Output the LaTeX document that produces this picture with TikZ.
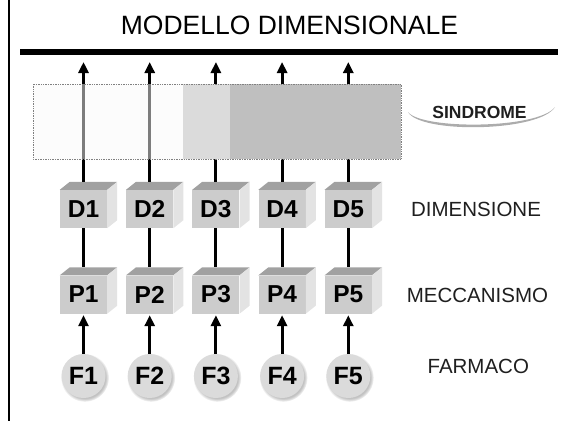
\documentclass[tikz,border=0pt]{standalone}
\usepackage{fontspec}
\setmainfont{Liberation Sans}
\usetikzlibrary{arrows.meta,shadows,calc}
\definecolor{frontc}{gray}{0.80}
\definecolor{topc}{gray}{0.63}
\definecolor{sidec}{gray}{0.89}
\definecolor{circc}{gray}{0.86}
\definecolor{secA}{gray}{0.98}
\definecolor{secB}{gray}{0.86}
\definecolor{secC}{gray}{0.75}
\definecolor{txt}{gray}{0.12}
\begin{document}
\begin{tikzpicture}[x=1pt,y=-1pt,
  cube/.style={rectangle, fill=frontc, minimum width=47pt, minimum height=38pt, inner sep=0pt,
    font=\bfseries\fontsize{24.5}{28}\selectfont, text=black},
  circ/.style={circle, fill=circc, minimum size=44pt, inner sep=0pt,
    font=\bfseries\fontsize{25}{28}\selectfont, text=black,
    circular drop shadow={shadow xshift=1.2pt, shadow yshift=-1.5pt, fill=gray!80, opacity=0.6}},
  lab/.style={font=\fontsize{20.5}{24}\selectfont, text=txt},
  conn/.style={line width=3pt, black},
  arr/.style={line width=3pt, black, -{Triangle[width=10pt,length=11pt]}}
]
\useasboundingbox (0,0) rectangle (583,420);
\draw[line width=1.5pt] (9,-1) -- (9,421);
\node[font=\fontsize{26.5}{30}\selectfont, text=black] (title) at (289.5,25) {MODELLO DIMENSIONALE};
\draw[line width=5.5pt] (20,52) coordinate (lineL) -- (558,52) coordinate (lineR);

\foreach \i in {1,...,5} {
  \pgfmathsetmacro\cx{83.5+66.2*(\i-1)}
  \node[cube] (d\i) at (\cx,209) {D\i};
  \fill[topc] (d\i.north west) -- ++(10,-8) -- ($(d\i.north east)+(10,-8)$) -- (d\i.north east) -- cycle;
  \fill[sidec] (d\i.north east) -- ++(10,-8) -- ($(d\i.south east)+(10,-8)$) -- (d\i.south east) -- cycle;
  \node[cube] (p\i) at (\cx,294.5) {P\i};
  \fill[topc] (p\i.north west) -- ++(10,-8) -- ($(p\i.north east)+(10,-8)$) -- (p\i.north east) -- cycle;
  \fill[sidec] (p\i.north east) -- ++(10,-8) -- ($(p\i.south east)+(10,-8)$) -- (p\i.south east) -- cycle;
  \node[circ] (f\i) at (\cx,376) {F\i};
  \coordinate (top\i) at (\cx,62);
  \draw[arr] ($(d\i.north)+(0,-8)$) -- (top\i);
  \draw[conn] (d\i.south) -- ($(p\i.north)+(0,-8)$);
  \draw[arr, shorten >=1.5pt] (f\i.north) -- (p\i.south);
}

% syndrome box
\fill[secA, fill opacity=0.5] (33,84) rectangle (183,159);
\fill[secB] (183,84) rectangle (230,159);
\fill[secC] (230,84) rectangle (401,159);
\draw[densely dotted, gray, line width=0.7pt] (33,84) rectangle (401,159);

% labels
\node[font=\bfseries\fontsize{17.5}{20}\selectfont, text=txt] (sind) at (479.5,112) {SINDROME};
\fill[gray!65] (408,112) .. controls (420,134) and (540,132) .. (555,107)
  .. controls (539,129) and (422,130) .. (408,112) -- cycle;
\node[lab] (dim) at (476,209) {DIMENSIONE};
\node[lab] (mec) at (477.5,295.5) {MECCANISMO};
\node[lab] (far) at (478.3,366.5) {FARMACO};
\end{tikzpicture}
\end{document}
